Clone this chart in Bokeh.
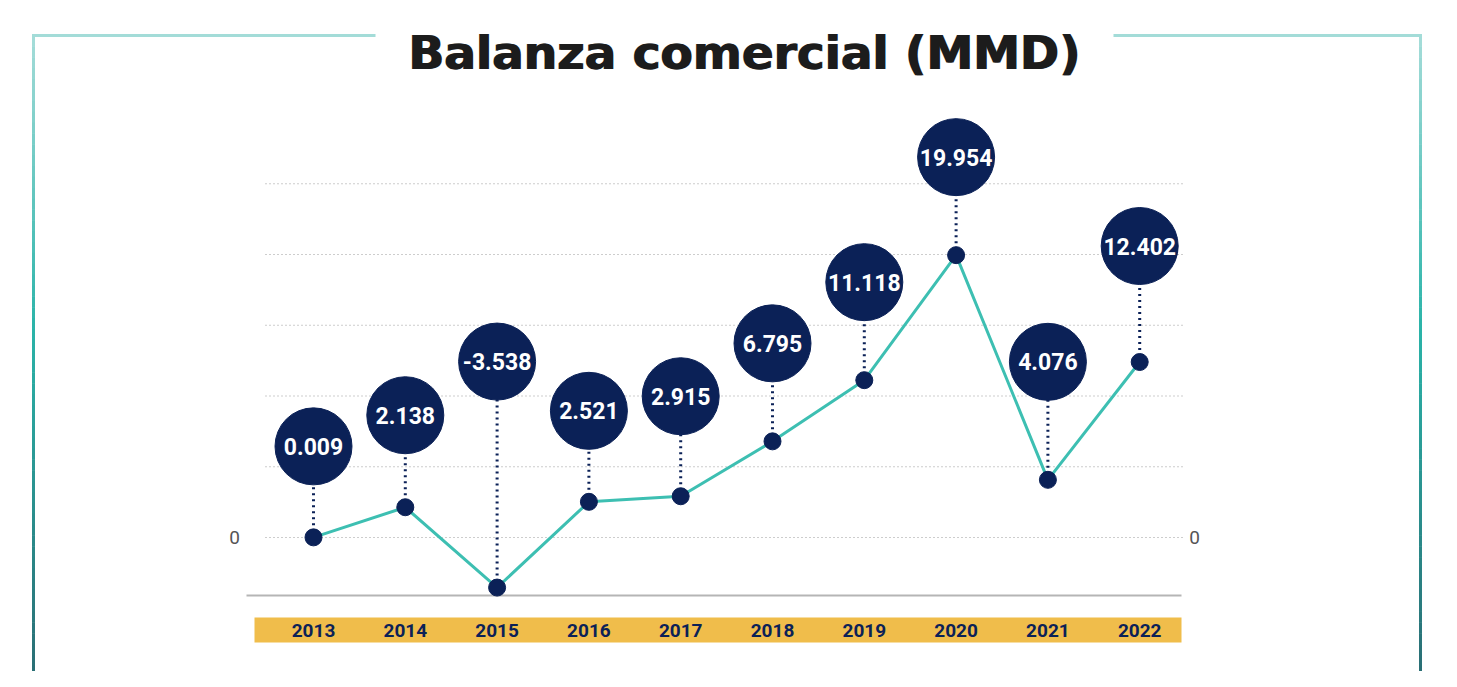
import numpy as np
from bokeh.plotting import figure
from bokeh.models import Range1d, ColumnDataSource
from bokeh.core.properties import value
from bokeh.embed import file_html
from bokeh.resources import INLINE

# ---------------- data ----------------
years = ["2013", "2014", "2015", "2016", "2017", "2018", "2019", "2020", "2021", "2022"]
balance = [0.009, 2.138, -3.538, 2.521, 2.915, 6.795, 11.118, 19.954, 4.076, 12.402]
value_labels = ["0.009", "2.138", "-3.538", "2.521", "2.915", "6.795", "11.118", "19.954", "4.076", "12.402"]
grid_values = [0, 5, 10, 15, 20, 25]
axis_tick_values = [0, 0]
axis_tick_labels = ["0", "0"]
title_text = "Balanza comercial (MMD)"

# ---------------- layout / style ----------------
label_lift_px = [91, 92, 226, 91, 100, 98, 98, 98, 118, 116]
W, H = 1441, 671
X0_PX, STEP_PX = 313, 91.8      # pixel position of first category, spacing
Y0_PX, UNIT_PX = 537, 14.15     # pixel position of zero, pixels per unit

NAVY = "#0b2157"
TEAL = "#3dbfb2"
YELLOW = "#f0bd4b"

p = figure(width=W, height=H, output_backend="svg", toolbar_location=None,
           x_range=Range1d(-X0_PX / STEP_PX, (W - X0_PX) / STEP_PX),
           y_range=Range1d((Y0_PX - H) / UNIT_PX, Y0_PX / UNIT_PX),
           x_axis_location=None, y_axis_location=None,
           min_border=0, outline_line_color=None,
           background_fill_color="white", border_fill_color="white")
p.grid.visible = False
p.extra_x_ranges = {"px": Range1d(0, W)}
p.extra_y_ranges = {"px": Range1d(H, 0)}

# ---------------- frame with gradient ----------------
def hex2rgb(h):
    h = h.lstrip("#")
    return np.array([int(h[i:i + 2], 16) for i in (0, 2, 4)], dtype=float)

stops_t = [0.0, 0.45, 1.0]
stops_c = [hex2rgb("#a3dcd8"), hex2rgb("#2ab4a9"), hex2rgb("#2a6d74")]

def grad(t):
    r = np.interp(t, stops_t, [c[0] for c in stops_c])
    g = np.interp(t, stops_t, [c[1] for c in stops_c])
    b = np.interp(t, stops_t, [c[2] for c in stops_c])
    return "#%02x%02x%02x" % (int(r), int(g), int(b))

top_y, bot_y = 35, 687
n = 60
ys = np.linspace(top_y, bot_y, n + 1)
seg_x0, seg_y0, seg_x1, seg_y1, seg_c = [], [], [], [], []
for xline in (33, 1420):
    for k in range(n):
        seg_x0.append(xline); seg_x1.append(xline)
        seg_y0.append(ys[k]); seg_y1.append(ys[k + 1] + 0.5)
        seg_c.append(grad(k / (n - 1)))
p.segment(x0=seg_x0, y0=seg_y0, x1=seg_x1, y1=seg_y1, line_color=seg_c, line_width=3,
          x_range_name="px", y_range_name="px")
p.segment(x0=[31.5, 1113], y0=[top_y, top_y], x1=[375, 1421.5], y1=[top_y, top_y],
          line_color="#a3dcd8", line_width=3, x_range_name="px", y_range_name="px")

# ---------------- title (drawn twice, slightly offset, for a heavier weight) ----------------
for dx in (-0.7, 0.7):
    p.text(x=[744], y=[52], text=[title_text], text_font=value("DejaVu Sans"),
           text_font_style="bold", text_font_size="47px", text_align="center",
           text_baseline="alphabetic", text_color="#1c1c1c", x_offset=dx,
           x_range_name="px", y_range_name="px")

# ---------------- grid, zero labels ----------------
p.segment(x0=[265] * len(grid_values), y0=grid_values,
          x1=[1183] * len(grid_values), y1=grid_values,
          line_color="#9a9a9a", line_width=1, line_dash="1 3", x_range_name="px")
p.text(x=[234, 1194], y=axis_tick_values, text=axis_tick_labels, text_font=value("Roboto"),
       text_font_size="19px", text_color="#555555", text_align="center",
       text_baseline="middle", x_range_name="px")

# baseline and category band
p.segment(x0=[246], y0=[595], x1=[1181], y1=[595], line_color="#b5b5b5", line_width=2,
          x_range_name="px", y_range_name="px")
p.quad(left=[254], right=[1181], top=[617], bottom=[642], fill_color=YELLOW,
       line_color=None, x_range_name="px", y_range_name="px")

idx = list(range(len(years)))
label_y = [v + lift / UNIT_PX for v, lift in zip(balance, label_lift_px)]
src = ColumnDataSource(dict(x=idx, y=balance, ly=label_y, lab=value_labels, yr=years))

p.text(x="x", y=630, text="yr", source=src, text_font=value("Roboto"),
       text_font_style="bold", text_font_size="19px", text_color=NAVY,
       text_align="center", text_baseline="middle", y_range_name="px")

# ---------------- series ----------------
p.segment(x0="x", y0="y", x1="x", y1="ly", source=src, line_color=NAVY,
          line_width=3, line_dash="2 4")
p.line(x="x", y="y", source=src, line_color=TEAL, line_width=3)
p.scatter(x="x", y="y", source=src, size=17, fill_color=NAVY, line_color=NAVY)
p.scatter(x="x", y="ly", source=src, size=77, fill_color=NAVY, line_color=NAVY)
p.text(x="x", y="ly", text="lab", source=src, text_font=value("Roboto"),
       text_font_style="bold", text_font_size="23px", text_color="white",
       text_align="center", text_baseline="middle")

open("out.html", "w").write(file_html(p, INLINE))
